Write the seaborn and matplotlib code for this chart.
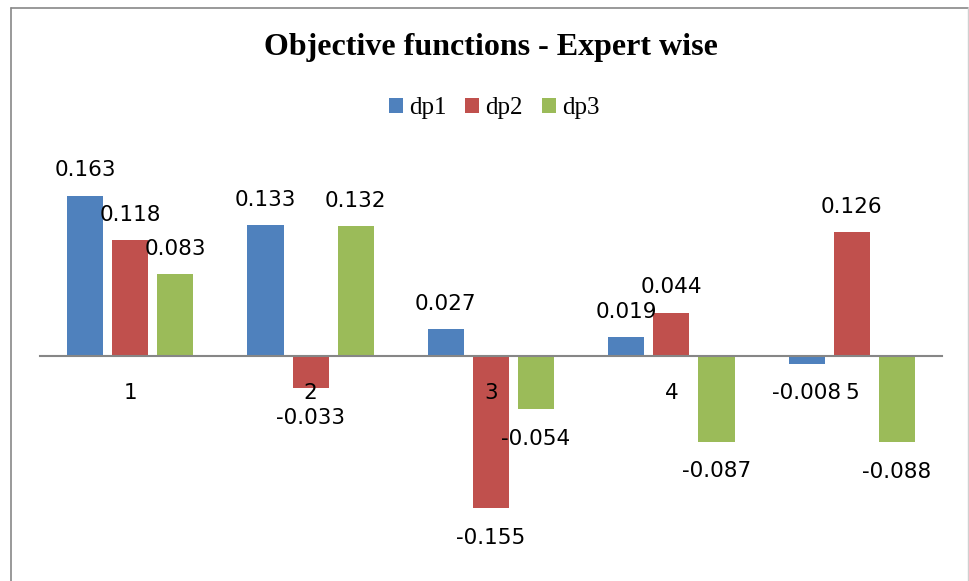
import matplotlib
matplotlib.use("Agg")
import matplotlib.pyplot as plt
from matplotlib.lines import Line2D
import seaborn as sns
import pandas as pd

# Data
experts = ["1", "2", "3", "4", "5"]
series_names = ["dp1", "dp2", "dp3"]
dp1 = [0.163, 0.133, 0.027, 0.019, -0.008]
dp2 = [0.118, -0.033, -0.155, 0.044, 0.126]
dp3 = [0.083, 0.132, -0.054, -0.087, -0.088]
colors = ["#4F81BD", "#C0504D", "#9BBB59"]

df = pd.DataFrame({
    "expert": experts * 3,
    "series": [s for s in series_names for _ in experts],
    "value": dp1 + dp2 + dp3,
})

sns.set_style("white")
plt.rcParams["font.family"] = ["DejaVu Sans"]
plt.rcParams["text.color"] = "black"
plt.rcParams["xtick.color"] = "black"

W, H = 970, 581
fig = plt.figure(figsize=(W / 100, H / 100), dpi=100)
ax = fig.add_axes([40 / W, 0.0489, 902 / W, 0.6768])

sns.barplot(data=df, x="expert", y="value", hue="series", palette=colors,
            saturation=1, width=0.75, gap=0.2, linewidth=0, ax=ax,
            errorbar=None)

ax.set_ylim(-0.2, 0.2)
ax.set_xlim(-0.5, 4.5)
ax.set_xlabel("")
ax.set_ylabel("")
ax.yaxis.set_visible(False)
for side in ["top", "right", "left"]:
    ax.spines[side].set_visible(False)
ax.spines["bottom"].set_position(("data", 0))
ax.spines["bottom"].set_color("#868686")
ax.spines["bottom"].set_linewidth(1.5)
ax.spines["bottom"].set_zorder(4)
ax.tick_params(axis="x", length=0, pad=19.5, labelsize=15.5,
               labelcolor="black")
ax.xaxis.set_zorder(5)
ax.patch.set_alpha(0)

# Value labels at the bar ends
for cont in ax.containers:
    anns = ax.bar_label(cont, fmt="%.3f", padding=11, fontsize=15.5,
                        color="black")
    for ann, val in zip(anns, cont.datavalues):
        ann.set_zorder(6)
        if val < 0:
            ann.xyann = (0, -14)

# Legend
handles, labels = ax.get_legend_handles_labels()
if ax.get_legend() is not None:
    ax.get_legend().remove()
fig.legend(handles, labels, loc="center",
           bbox_to_anchor=(494 / W, 1 - 108 / H), bbox_transform=fig.transFigure,
           ncol=3, frameon=False, labelcolor="black",
           prop={"family": "Liberation Serif", "size": 18},
           handlelength=0.56, handleheight=0.56, handletextpad=0.25,
           columnspacing=0.75, borderpad=0)

# Title
fig.text(491 / W, 1 - 47 / H, "Objective functions - Expert wise",
         ha="center", va="center", fontsize=23, fontweight="bold",
         family="Liberation Serif", color="black")

# Chart frame
frame_kw = dict(color="#878787", linewidth=1.2, transform=fig.transFigure)
top_y = 1 - 8 / H
left_x = 11 / W
right_x = 968.5 / W
fig.add_artist(Line2D([left_x, right_x], [top_y, top_y], **frame_kw))
fig.add_artist(Line2D([left_x, left_x], [top_y, 0], **frame_kw))
fig.add_artist(Line2D([right_x, right_x], [top_y, 0], color="#d0d0d0",
                      linewidth=1.0, transform=fig.transFigure))

fig.savefig("out.png", dpi=100)
